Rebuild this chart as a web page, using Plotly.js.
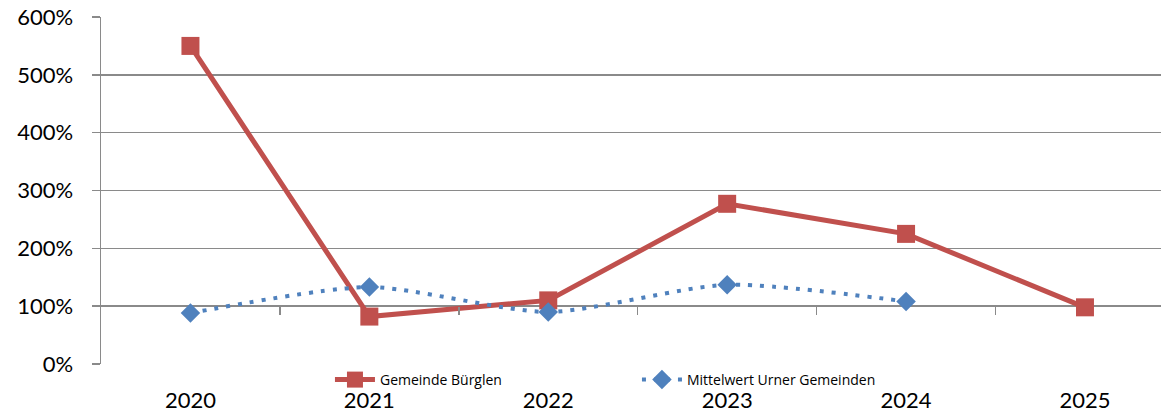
<!DOCTYPE html>
<html>
<head>
<meta charset="utf-8">
<script src="https://cdn.plot.ly/plotly-3.0.1.min.js"></script>
<style>html,body{margin:0;padding:0;background:#fff;}#chart{width:1161px;height:412px;}</style>
</head>
<body>
<div id="chart"></div>
<script>
const years = ["2020", "2021", "2022", "2023", "2024", "2025"];
const buerglen = [5.50, 0.82, 1.10, 2.77, 2.25, 0.98];
const mittelwert = [0.88, 1.33, 0.90, 1.37, 1.08];
const yTicks = [0, 1, 2, 3, 4, 5, 6];
const yTickText = ["0%", "100%", "200%", "300%", "400%", "500%", "600%"];

const idx = years.map((_, i) => i);
const grid = "#8a8a8a";
const font = "Lato, 'Open Sans', sans-serif";

const traces = [
  {
    x: idx, y: buerglen, name: "Gemeinde Bürglen", type: "scatter", mode: "lines+markers",
    line: {color: "#C0504D", width: 5},
    marker: {symbol: "square", size: 18, color: "#C0504D"}
  },
  {
    x: idx.slice(0, mittelwert.length), y: mittelwert, name: "Mittelwert Urner Gemeinden", type: "scatter", mode: "lines+markers",
    line: {color: "#4F81BD", width: 4, dash: "4px,8px", shape: "spline", smoothing: 0.7},
    marker: {symbol: "diamond", size: 15, color: "#4F81BD"}
  },
  {
    x: [0, 5], y: [1, 1], xaxis: "x2", yaxis: "y", mode: "none", showlegend: false, hoverinfo: "skip"
  }
];

const layout = {
  width: 1161, height: 412,
  margin: {l: 101, r: 0, t: 17, b: 48},
  paper_bgcolor: "#fff", plot_bgcolor: "#fff",
  font: {family: font, color: "#000"},
  showlegend: true,
  legend: {
    orientation: "h", x: 0.216, y: 0.0, xanchor: "left", yanchor: "top",
    font: {size: 14, family: "'Open Sans', sans-serif"}, bgcolor: "rgba(0,0,0,0)",
    itemwidth: 40, tracegroupgap: 0, entrywidth: 252
  },
  xaxis: {
    range: [-0.5, 5.425], tickvals: idx, ticktext: years, ticks: "",
    showgrid: false, zeroline: false, showline: false,
    tickfont: {size: 22, family: font}, ticklabelstandoff: 21
  },
  xaxis2: {
    overlaying: "x", anchor: "free", position: 1/6, range: [-0.5, 5.425],
    tickvals: [0.5, 1.5, 2.5, 3.5, 4.5], showticklabels: false,
    ticks: "outside", ticklen: 8, tickwidth: 1.5, tickcolor: grid,
    showgrid: false, zeroline: false, showline: false
  },
  yaxis: {
    range: [0, 6], tickvals: yTicks, ticktext: yTickText,
    showgrid: true, gridcolor: grid, gridwidth: 1.5,
    zeroline: false, showline: true, linecolor: grid, linewidth: 1.5,
    ticks: "outside", ticklen: 8, tickwidth: 1.5, tickcolor: grid,
    tickfont: {size: 22, family: font}, ticklabelstandoff: 14
  }
};

Plotly.newPlot("chart", traces, layout, {displayModeBar: false, staticPlot: true});
</script>
</body>
</html>
